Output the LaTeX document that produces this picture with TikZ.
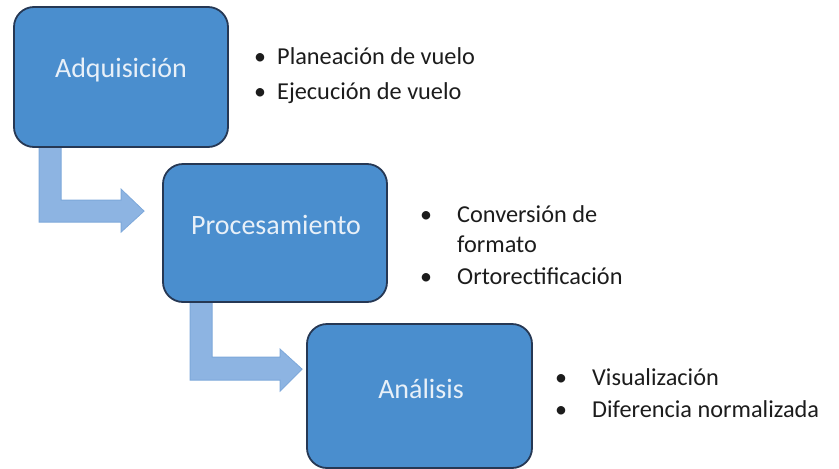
\documentclass[tikz,border=0pt]{standalone}
\usepackage{fontspec}
\setmainfont{Carlito}
\usetikzlibrary{calc}
\pgfdeclarelayer{background}
\pgfsetlayers{background,main}
\definecolor{boxfill}{RGB}{74,142,206}
\definecolor{boxedge}{RGB}{38,56,84}
\definecolor{arrfill}{RGB}{141,180,226}
\definecolor{arredge}{RGB}{125,168,218}
\definecolor{boxtxt}{RGB}{232,240,248}
\definecolor{bultxt}{RGB}{28,28,28}
\tikzset{
  stagebox/.style={draw=boxedge, line width=1.8pt, fill=boxfill, rounded corners=20pt, inner sep=0pt},
  stagetext/.style={anchor=base, text=boxtxt, font=\fontsize{28}{32}\selectfont, inner sep=0pt},
  bentarrow/.style={fill=arrfill, draw=arredge, line width=0.8pt, line join=miter},
  bul/.style={anchor=base, text=bultxt, font=\fontsize{24}{28}\selectfont, inner sep=0pt},
  item/.style={anchor=base west, text=bultxt, font=\fontsize{24.3}{28}\selectfont, inner sep=0pt},
}
\begin{document}
\begin{tikzpicture}[x=1pt,y=-1pt]
\useasboundingbox (0,0) rectangle (839,469);
% boxes
\node[stagebox, minimum width=214pt, minimum height=140pt] (a) at (121,77) {};
\node[stagebox, minimum width=224pt, minimum height=138pt] (b) at (275,233) {};
\node[stagebox, minimum width=225pt, minimum height=144pt] (c) at (419.5,396) {};
% bent arrows (behind the boxes)
\begin{pgfonlayer}{background}
\path[bentarrow] ($(a.south west)+(26,-4)$) -- ++(22,0) |- ($(b.north west)+(-41,37)$) -- ++(0,-11) -- ($(b.north west)+(-18,48)$) -- ($(b.north west)+(-41,69)$) -- ++(0,-10) -| cycle;
\path[bentarrow] ($(b.south west)+(28,-4)$) -- ++(22,0) |- ($(c.north west)+(-26,34)$) -- ++(0,-8) -- ($(c.north west)+(-4,46)$) -- ($(c.north west)+(-26,68)$) -- ++(0,-11) -| cycle;
\end{pgfonlayer}
% box labels
\node[stagetext] (at) at (121,77) {Adquisición};
\node[stagetext] (bt) at (276,234) {Procesamiento};
\node[stagetext] (ct) at (421,398) {Análisis};
% bullets group 1
\node[bul] (a1b) at (260,64) {\textbullet};
\node[item] (a1t) at (277,64) {Planeación de vuelo};
\node[bul] (a2b) at (260,99) {\textbullet};
\node[item] (a2t) at (277,99) {Ejecución de vuelo};
% bullets group 2
\node[bul] (b1b) at (426,222) {\textbullet};
\node[item] (b1t) at (457,222) {Conversión de};
\node[item] (b1u) at (457,252) {formato};
\node[bul] (b2b) at (426,284) {\textbullet};
\node[item] (b2t) at (457,284) {Ortorectificación};
% bullets group 3
\node[bul] (c1b) at (561,385) {\textbullet};
\node[item] (c1t) at (592,385) {Visualización};
\node[bul] (c2b) at (561,417) {\textbullet};
\node[item] (c2t) at (592,417) {Diferencia normalizada};
\end{tikzpicture}
\end{document}
